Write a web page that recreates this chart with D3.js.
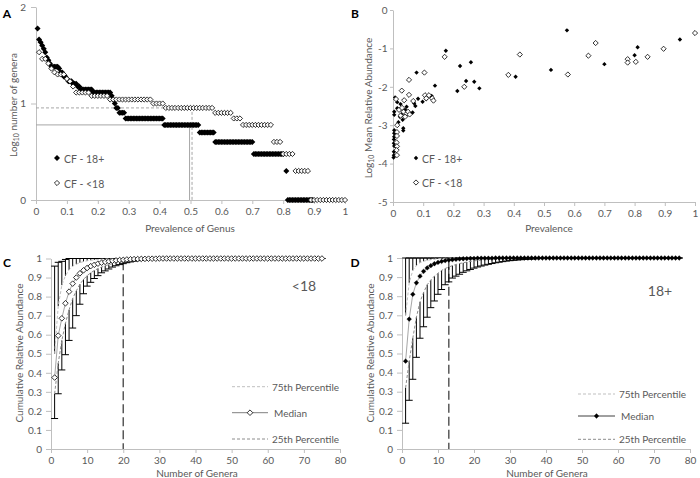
<!DOCTYPE html>
<html><head><meta charset="utf-8">
<script src="https://cdn.jsdelivr.net/npm/d3@7"></script>
<style>body{margin:0;background:#fff}svg text{font-family:Lato,"Open Sans",sans-serif}</style>
</head><body><svg id="c" width="700" height="478"></svg>
<script>
// ---------- Panel A data: runs of [prevalence start, prevalence end, number of genera] ----------
const aRuns18 = [[0.005,0.005,60],[0.01,0.01,46],[0.015,0.015,43],[0.02,0.02,40],[0.025,0.025,37],[0.03,0.03,34],[0.035,0.035,30],[0.04,0.04,28],[0.045,0.045,26],[0.05,0.07,24],[0.075,0.075,23],[0.08,0.085,21],[0.09,0.095,19],[0.1,0.1,18],[0.105,0.115,17],[0.12,0.13,16],[0.135,0.14,15],[0.145,0.18,14],[0.185,0.24,13],[0.245,0.245,12],[0.25,0.25,11],[0.255,0.255,10],[0.26,0.265,9],[0.27,0.285,8],[0.29,0.41,7],[0.415,0.525,6],[0.53,0.575,5],[0.58,0.70,4],[0.705,0.80,3],[0.81,0.81,2],[0.815,0.895,1]];
const aStep18 = 0.005;
const aRunsU18 = [[0.01,0.01,34],[0.02,0.03,29],[0.04,0.04,26],[0.05,0.05,23],[0.06,0.06,21],[0.07,0.09,20],[0.1,0.1,18],[0.11,0.11,17],[0.12,0.12,15],[0.13,0.17,13],[0.18,0.23,12],[0.24,0.37,11],[0.38,0.41,10],[0.42,0.57,9],[0.58,0.63,8],[0.64,0.66,7],[0.67,0.76,6],[0.77,0.79,4],[0.8,0.83,3],[0.84,0.88,2],[0.89,1.0,1]];
const aStepU18 = 0.01;
const aRefPrev = [0.497, 0.505];   // median prevalence markers (18+, <18)
const aRefCount = [6, 9];
const aXTicks = [0,0.1,0.2,0.3,0.4,0.5,0.6,0.7,0.8,0.9,1];
const aYTicks = [0,1,2];

// ---------- Panel B data ----------
const bPrev18 = [0.576,0.95,0.81,0.80,0.175,0.70,0.258,0.222,0.523,0.406,0.242,0.269,0.213,0.286,0.139,0.078,0.007,0.014,0.025,0.014,0.004,0.004,0.023,0.032,0.034,0.034,0.004,0.004,0.004,0.003,0.003,0.004,0.003,0.003,0.002,0.065,0.070,0.074,0.098,0.110,0.128,0.131,0.040,0.045,0.083,0.018,0.028];
const bAbund18 = [-0.53,-0.77,-0.97,-1.18,-1.06,-1.41,-1.36,-1.46,-1.56,-1.74,-1.85,-1.87,-2.11,-2.04,-1.97,-1.63,-2.28,-2.40,-2.45,-2.56,-2.65,-2.73,-2.78,-2.86,-3.08,-3.14,-3.13,-3.21,-3.30,-3.37,-3.47,-3.54,-3.69,-3.78,-3.84,-2.67,-2.43,-2.50,-2.39,-2.32,-2.24,-2.32,-2.60,-2.52,-2.31,-2.92,-2.72];
const bPrevU18 = [1.0,0.896,0.671,0.647,0.843,0.42,0.777,0.777,0.804,0.579,0.382,0.171,0.104,0.236,0.053,0.029,0.053,0.067,0.106,0.119,0.13,0.134,0.11,0.01,0.037,0.02,0.03,0.035,0.045,0.05,0.025,0.04,0.055,0.014,0.013,0.013,0.012,0.013,0.012,0.013];
const bAbundU18 = [-0.60,-1.01,-0.86,-1.19,-1.22,-1.16,-1.28,-1.37,-1.35,-1.68,-1.69,-1.22,-1.63,-2.0,-1.82,-2.10,-2.21,-2.37,-2.22,-2.22,-2.30,-2.36,-2.3,-2.32,-2.35,-2.6,-2.55,-2.65,-2.7,-2.65,-2.75,-2.78,-2.72,-3.0,-3.18,-3.28,-3.45,-3.55,-3.65,-3.78];
const bXTicks = [0,0.1,0.2,0.3,0.4,0.5,0.6,0.7,0.8,0.9,1];
const bYTicks = [0,-1,-2,-3,-4,-5];

// ---------- Panel C data (<18), genera 1..75 ----------
const cMin = [0.16,0.29,0.415,0.495,0.57,0.635,0.70,0.76,0.815,0.855,0.875,0.895,0.91,0.925,0.935,0.945,0.955,0.962,0.968,0.973,0.978,0.982,0.986,0.989,0.991,0.993,0.995,0.996,0.997,0.998,0.999,0.999,1,1,1,1,1,1,1,1,1,1,1,1,1,1,1,1,1,1,1,1,1,1,1,1,1,1,1,1,1,1,1,1,1,1,1,1,1,1,1,1,1,1,1];
const cQ1 = [0.29,0.45,0.57,0.66,0.73,0.79,0.83,0.865,0.89,0.91,0.925,0.937,0.947,0.955,0.962,0.968,0.973,0.977,0.981,0.984,0.987,0.989,0.991,0.993,0.994,0.995,0.996,0.997,0.998,0.998,0.999,0.999,1,1,1,1,1,1,1,1,1,1,1,1,1,1,1,1,1,1,1,1,1,1,1,1,1,1,1,1,1,1,1,1,1,1,1,1,1,1,1,1,1,1,1];
const cMed = [0.375,0.595,0.686,0.765,0.826,0.868,0.900,0.922,0.938,0.950,0.960,0.967,0.973,0.978,0.982,0.985,0.988,0.990,0.992,0.993,0.995,0.996,0.997,0.997,0.998,0.998,0.999,0.999,0.999,1,1,1,1,1,1,1,1,1,1,1,1,1,1,1,1,1,1,1,1,1,1,1,1,1,1,1,1,1,1,1,1,1,1,1,1,1,1,1,1,1,1,1,1,1,1];
const cQ3 = [0.50,0.75,0.86,0.91,0.94,0.96,0.97,0.978,0.984,0.988,0.991,0.993,0.995,0.996,0.997,0.998,0.998,0.999,0.999,1,1,1,1,1,1,1,1,1,1,1,1,1,1,1,1,1,1,1,1,1,1,1,1,1,1,1,1,1,1,1,1,1,1,1,1,1,1,1,1,1,1,1,1,1,1,1,1,1,1,1,1,1,1,1,1];
const cMax = [0.96,0.98,0.985,0.995,1,1,1,1,1,1,1,1,1,1,1,1,1,1,1,1,1,1,1,1,1,1,1,1,1,1,1,1,1,1,1,1,1,1,1,1,1,1,1,1,1,1,1,1,1,1,1,1,1,1,1,1,1,1,1,1,1,1,1,1,1,1,1,1,1,1,1,1,1,1,1];
const cCutoff = 20;

// ---------- Panel D data (18+), genera 1..77 ----------
const dMin = [0.135,0.255,0.365,0.48,0.58,0.64,0.69,0.74,0.775,0.81,0.835,0.86,0.875,0.895,0.905,0.915,0.925,0.933,0.94,0.947,0.953,0.958,0.963,0.967,0.971,0.975,0.978,0.981,0.984,0.986,0.988,0.99,0.991,0.993,0.994,0.995,0.996,0.997,0.998,0.999,1,1,1,1,1,1,1,1,1,1,1,1,1,1,1,1,1,1,1,1,1,1,1,1,1,1,1,1,1,1,1,1,1,1,1,1,1];
const dQ1 = [0.32,0.46,0.58,0.69,0.77,0.82,0.86,0.885,0.905,0.92,0.935,0.945,0.953,0.96,0.966,0.971,0.975,0.979,0.982,0.985,0.987,0.989,0.991,0.992,0.994,0.995,0.996,0.997,0.997,0.998,0.998,0.999,0.999,0.999,0.999,1,1,1,1,1,1,1,1,1,1,1,1,1,1,1,1,1,1,1,1,1,1,1,1,1,1,1,1,1,1,1,1,1,1,1,1,1,1,1,1,1,1];
const dMed = [0.46,0.68,0.81,0.87,0.905,0.93,0.948,0.96,0.97,0.977,0.982,0.986,0.989,0.991,0.993,0.995,0.996,0.997,0.998,0.998,0.999,0.999,0.999,0.999,0.999,1,1,1,1,1,1,1,1,1,1,1,1,1,1,1,1,1,1,1,1,1,1,1,1,1,1,1,1,1,1,1,1,1,1,1,1,1,1,1,1,1,1,1,1,1,1,1,1,1,1,1,1];
const dQ3 = [0.70,0.87,0.935,0.96,0.975,0.983,0.988,0.991,0.994,0.996,0.997,0.998,0.999,1,1,1,1,1,1,1,1,1,1,1,1,1,1,1,1,1,1,1,1,1,1,1,1,1,1,1,1,1,1,1,1,1,1,1,1,1,1,1,1,1,1,1,1,1,1,1,1,1,1,1,1,1,1,1,1,1,1,1,1,1,1,1,1];
const dMax = [1,1,1,1,1,1,1,1,1,1,1,1,1,1,1,1,1,1,1,1,1,1,1,1,1,1,1,1,1,1,1,1,1,1,1,1,1,1,1,1,1,1,1,1,1,1,1,1,1,1,1,1,1,1,1,1,1,1,1,1,1,1,1,1,1,1,1,1,1,1,1,1,1,1,1,1,1];
const dCutoff = 13;
const cdXTicks = [0,10,20,30,40,50,60,70,80];
const cdYTicks = [0,0.1,0.2,0.3,0.4,0.5,0.6,0.7,0.8,0.9,1];

// ---------- drawing ----------
const AX = "#bfbfbf", TXT = "#595959";
const svg = d3.select("#c");
const dia = (cx, cy, r) => `M${cx},${cy-r}L${cx+r},${cy}L${cx},${cy+r}L${cx-r},${cy}Z`;

function styleAxis(g){
  g.select(".domain").attr("stroke", AX);
  g.selectAll(".tick line").attr("stroke", AX);
  g.selectAll("text").attr("fill", TXT).attr("font-size", 10).attr("font-family","Lato, sans-serif");
}
function axes(x, y, xt, yt, xAt, yAt, ypad, ytick){
  svg.append("g").attr("transform",`translate(0,${xAt})`)
    .call(d3.axisBottom(x).tickValues(xt).tickFormat(d=>String(d)).tickSize(4).tickSizeOuter(0).tickPadding(3.5)).call(styleAxis);
  svg.append("g").attr("transform",`translate(${yAt},0)`)
    .call(d3.axisLeft(y).tickValues(yt).tickFormat(d=>d<0?"-"+Math.abs(d):String(d)).tickSize(ytick||5).tickSizeOuter(0).tickPadding(ypad)).call(styleAxis);
}
function label(x, y, txt, opts={}){
  return svg.append("text").attr("x",x).attr("y",y).attr("fill",opts.fill||TXT)
    .attr("font-size",opts.size||10).attr("text-anchor",opts.anchor||"middle")
    .attr("dominant-baseline","central").attr("font-weight",opts.weight||"normal")
    .attr("font-family",opts.family||"Lato, sans-serif").text(txt);
}
function yTitle(x, y, parts){
  const t = svg.append("text").attr("transform",`translate(${x},${y}) rotate(-90)`)
    .attr("text-anchor","middle").attr("dominant-baseline","central").attr("fill",TXT).attr("font-size",10);
  parts.forEach(p=>{
    const s = t.append("tspan").text(p.t);
    if(p.sub){ s.attr("font-size",7).attr("dy",2.5); }
    else if(p.after){ s.attr("dy",-2.5); }
  });
}

// ===== Panel A =====
const xA = d3.scaleLinear([0,1],[36,345]);
const yA = d3.scaleLinear([0,2],[200,7]);
axes(xA, yA, aXTicks, aYTicks, 200, 36, 5);
function runPoints(runs, step){
  const pts=[];
  runs.forEach(([x0,x1,c])=>{ for(let p=x0; p<=x1+1e-9; p+=step) pts.push([p, Math.log10(c)]); });
  return pts;
}
// reference lines
svg.append("path").attr("fill","none").attr("stroke","#a6a6a6").attr("stroke-width",1)
  .attr("d",`M${xA(0)},${yA(Math.log10(aRefCount[0]))}H${xA(aRefPrev[0])}V${yA(0)}`);
svg.append("path").attr("fill","none").attr("stroke","#a6a6a6").attr("stroke-width",1).attr("stroke-dasharray","3,2")
  .attr("d",`M${xA(0)},${yA(Math.log10(aRefCount[1]))}H${xA(aRefPrev[1])}V${yA(0)}`);
svg.append("g").selectAll("path").data(runPoints(aRuns18,aStep18)).join("path")
  .attr("d",d=>dia(xA(d[0]),yA(d[1]),3)).attr("fill","#000");
svg.append("g").selectAll("path").data(runPoints(aRunsU18,aStepU18)).join("path")
  .attr("d",d=>dia(xA(d[0]),yA(d[1]),2.6)).attr("fill","#fff").attr("stroke","#000").attr("stroke-width",0.8);
label(190,228,"Prevalence of Genus");
yTitle(13,105,[{t:"Log"},{t:"10",sub:true},{t:" number of genera",after:true}]);
svg.append("path").attr("d",dia(57,158,3)).attr("fill","#000");
label(64,159,"CF - 18+",{anchor:"start",size:10.5});
svg.append("path").attr("d",dia(57,183,2.6)).attr("fill","#fff").attr("stroke","#000").attr("stroke-width",0.8);
label(64,183.5,"CF - <18",{anchor:"start",size:10.5});
label(7,13,"A",{fill:"#000",weight:"bold",size:12,family:"Liberation Sans, Arial, sans-serif"});

// ===== Panel B =====
const xB = d3.scaleLinear([0,1],[393,695]);
const yB = d3.scaleLinear([-5,0],[202,10]);
axes(xB, yB, bXTicks, bYTicks, 202, 393, 2.5, 3);
svg.append("g").selectAll("path").data(d3.zip(bPrev18,bAbund18)).join("path")
  .attr("d",d=>dia(xB(d[0]),yB(d[1]),2.2)).attr("fill","#000");
svg.append("g").selectAll("path").data(d3.zip(bPrevU18,bAbundU18)).join("path")
  .attr("d",d=>dia(xB(d[0]),yB(d[1]),2.6)).attr("fill","#fff").attr("stroke","#000").attr("stroke-width",0.8);
label(549,228,"Prevalence");
yTitle(368,108,[{t:"Log"},{t:"10",sub:true},{t:" Mean Relative Abundance",after:true}]);
svg.append("path").attr("d",dia(416,158,2.2)).attr("fill","#000");
label(422,158.5,"CF - 18+",{anchor:"start",size:10.5});
svg.append("path").attr("d",dia(416,182.5,2.6)).attr("fill","#fff").attr("stroke","#000").attr("stroke-width",0.8);
label(422,183,"CF - <18",{anchor:"start",size:10.5});
label(355,13,"B",{fill:"#000",weight:"bold",size:12,family:"Liberation Sans, Arial, sans-serif"});

// ===== Panels C & D =====
function cumPanel(x, y, mn, q1, md, q3, mx, cutoff, filled, legY, legX0, legX1, tag, tagXY, letter, letterXY, titleX, ytX){
  axes(x, y, cdXTicks, cdYTicks, 449, x(0), 4);
  const n = md.length;
  const idx = d3.range(n);
  const g = svg.append("g");
  g.append("line").attr("x1",x(cutoff)).attr("x2",x(cutoff)).attr("y1",y(0.985)).attr("y2",y(0))
    .attr("stroke","#595959").attr("stroke-width",1.5).attr("stroke-dasharray","9,4");
  idx.forEach(i=>{
    const cx = x(i+1);
    if(q1[i]>mn[i]) g.append("line").attr("x1",cx).attr("x2",cx).attr("y1",y(mn[i])).attr("y2",y(q1[i])).attr("stroke","#000").attr("stroke-width",1);
    if(mx[i]>q3[i]) g.append("line").attr("x1",cx).attr("x2",cx).attr("y1",y(q3[i])).attr("y2",y(mx[i])).attr("stroke","#000").attr("stroke-width",1);
    g.append("line").attr("x1",cx-3.5).attr("x2",cx+3.5).attr("y1",y(mn[i])).attr("y2",y(mn[i])).attr("stroke","#000").attr("stroke-width",1);
    g.append("line").attr("x1",cx-3.5).attr("x2",cx+3.5).attr("y1",y(mx[i])).attr("y2",y(mx[i])).attr("stroke","#000").attr("stroke-width",1);
  });
  const line = d3.line().x((d,i)=>x(i+1)).y(d=>y(d));
  g.append("path").attr("d",line(q3)).attr("fill","none").attr("stroke","#bfbfbf").attr("stroke-dasharray","3,2");
  g.append("path").attr("d",line(q1)).attr("fill","none").attr("stroke","#8c8c8c").attr("stroke-dasharray","3,2");
  g.append("path").attr("d",line(md)).attr("fill","none").attr("stroke","#a6a6a6").attr("stroke-width",1);
  g.selectAll("path.m").data(md).join("path").attr("class","m")
    .attr("d",(d,i)=>dia(x(i+1),y(d),filled?2.4:2.8))
    .attr("fill",filled?"#000":"#fff").attr("stroke","#000").attr("stroke-width",filled?0.3:0.8);
  const lx = (legX0+legX1)/2;
  svg.append("line").attr("x1",legX0).attr("x2",legX1).attr("y1",legY[0]).attr("y2",legY[0]).attr("stroke","#bfbfbf").attr("stroke-dasharray","3,2");
  label(legX1+4,legY[0],"75th Percentile",{anchor:"start"});
  svg.append("line").attr("x1",legX0).attr("x2",legX1).attr("y1",legY[1]).attr("y2",legY[1]).attr("stroke",filled?"#404040":"#808080");
  svg.append("path").attr("d",dia(lx,legY[1],filled?2.4:2.8)).attr("fill",filled?"#000":"#fff").attr("stroke","#000").attr("stroke-width",filled?0.3:0.8);
  label(legX1+6,legY[1],"Median",{anchor:"start"});
  svg.append("line").attr("x1",legX0).attr("x2",legX1).attr("y1",legY[2]).attr("y2",legY[2]).attr("stroke","#8c8c8c").attr("stroke-dasharray","3,2");
  label(legX1+4,legY[2],"25th Percentile",{anchor:"start"});
  label(tagXY[0],tagXY[1],tag,{size:14,anchor:"middle"});
  label(letterXY[0],letterXY[1],letter,{fill:"#000",weight:"bold",size:12,family:"Liberation Sans, Arial, sans-serif"});
  label(titleX,473,"Number of Genera");
  yTitle(ytX,353,[{t:"Cumulative Relative Abundance"}]);
}
const xC = d3.scaleLinear([0,80],[51,340]);
const yC = d3.scaleLinear([0,1],[449,258.5]);
cumPanel(xC, yC, cMin, cQ1, cMed, cQ3, cMax, cCutoff, false, [386.7,412.7,439], 232, 268, "<18", [304,285.5], "C", [7,262], 197, 19);
const xD = d3.scaleLinear([0,80],[402,690]);
const yD = d3.scaleLinear([0,1],[449,258]);
cumPanel(xD, yD, dMin, dQ1, dMed, dQ3, dMax, dCutoff, true, [394,416,439.3], 578, 615, "18+", [660,290.5], "D", [355,262], 547, 370);
</script></body></html>
